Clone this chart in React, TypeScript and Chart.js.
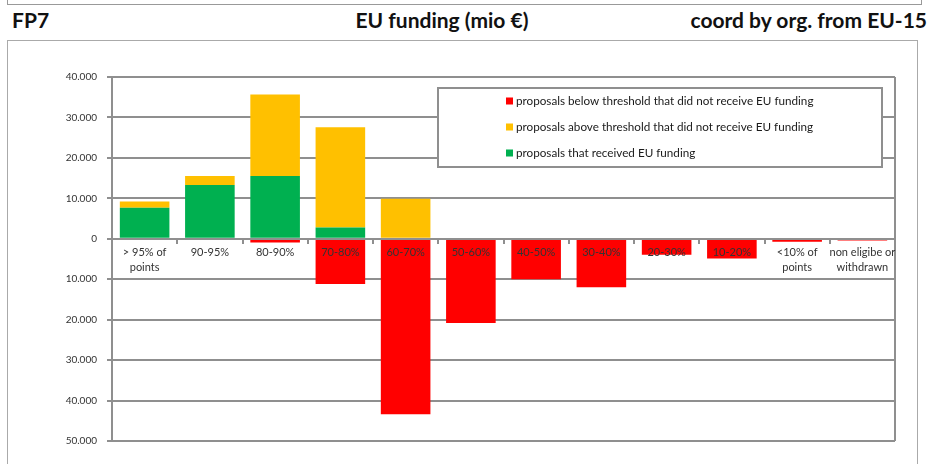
import React, { useEffect, useRef } from "react";
import { Chart, registerables } from "chart.js";

Chart.register(...registerables);

const categories: (string | string[])[] = [
  ["> 95% of", "points"],
  "90-95%",
  "80-90%",
  "70-80%",
  "60-70%",
  "50-60%",
  "40-50%",
  "30-40%",
  "20-30%",
  "10-20%",
  ["<10% of", "points"],
  ["non eligibe or", "withdrawn"],
];

const receivedFunding = [7700, 13300, 15550, 2800, 0, 0, 0, 0, 0, 0, 0, 0];
const aboveThresholdNotFunded = [1500, 2250, 20150, 24800, 9900, 0, 0, 0, 0, 0, 0, 0];
const belowThresholdNotFunded = [0, -300, -900, -11200, -43400, -20800, -10000, -12000, -3950, -4850, -750, -400];

const seriesLabels = [
  "proposals that received EU funding",
  "proposals above threshold that did not receive EU funding",
  "proposals below threshold that did not receive EU funding",
];

const yMin = -50000;
const yMax = 40000;
const yStep = 10000;

const FONT = "Lato, 'Open Sans', sans-serif";
const GRID = "#8f8f8f";

function fmt(v: number): string {
  return String(Math.abs(v)).replace(/\B(?=(\d{3})+(?!\d))/g, ".");
}

const frameAndLegend = {
  id: "frameAndLegend",
  beforeDatasetsDraw(chart: any) {
    const { ctx, chartArea } = chart;
    ctx.save();
    ctx.strokeStyle = GRID;
    ctx.lineWidth = 2;
    ctx.beginPath();
    ctx.moveTo(chartArea.right, chartArea.top);
    ctx.lineTo(chartArea.right, chartArea.bottom);
    ctx.stroke();
    ctx.restore();
  },
  afterDraw(chart: any) {
    const { ctx, chartArea } = chart;
    const x = chartArea.left + 326;
    const y = chartArea.top + 11;
    const w = 444;
    const h = 79;
    ctx.save();
    ctx.fillStyle = "#ffffff";
    ctx.fillRect(x, y, w, h);
    ctx.strokeStyle = GRID;
    ctx.lineWidth = 2;
    ctx.strokeRect(x, y, w, h);
    const items = chart.data.datasets.slice().reverse();
    ctx.font = `11.7px ${FONT}`;
    ctx.textBaseline = "middle";
    ctx.textAlign = "left";
    items.forEach((ds: any, i: number) => {
      const cy = y + 13 + i * 26;
      ctx.fillStyle = ds.backgroundColor;
      ctx.fillRect(x + 68, cy - 3.5, 7, 7);
      ctx.fillStyle = "#1a1a1a";
      ctx.fillText(ds.label, x + 78, cy + 0.5);
    });
    ctx.restore();
  },
};

function ChartView() {
  const ref = useRef<HTMLCanvasElement | null>(null);
  useEffect(() => {
    if (!ref.current) return;
    Chart.defaults.font.family = FONT;
    const chart = new Chart(ref.current, {
      type: "bar",
      data: {
        labels: categories,
        datasets: [
          { label: seriesLabels[0], data: receivedFunding, backgroundColor: "#00B050" },
          { label: seriesLabels[1], data: aboveThresholdNotFunded, backgroundColor: "#FFC000" },
          { label: seriesLabels[2], data: belowThresholdNotFunded, backgroundColor: "#FF0000" },
        ],
      },
      options: {
        responsive: false,
        animation: false,
        maintainAspectRatio: false,
        layout: { padding: { left: 0, top: 77, right: 38, bottom: 23 } },
        datasets: { bar: { categoryPercentage: 1, barPercentage: 0.76, borderWidth: 0 } },
        plugins: { legend: { display: false }, tooltip: { enabled: false }, title: { display: false } },
        scales: {
          x: {
            stacked: true,
            position: { y: 0 } as any,
            offset: true,
            grid: { display: true, drawOnChartArea: false, drawTicks: true, tickLength: 4, color: GRID, lineWidth: 2, offset: true },
            border: { display: true, color: GRID, width: 2, z: 1 } as any,
            ticks: {
              z: 2,
              autoSkip: false,
              maxRotation: 0,
              minRotation: 0,
              padding: 3,
              color: "#333333",
              font: { size: 11, family: FONT, lineHeight: 1.3 },
            } as any,
          },
          y: {
            stacked: true,
            min: yMin,
            max: yMax,
            afterFit: (scale: any) => {
              scale.width = 112;
            },
            grid: { color: GRID, lineWidth: 2, drawTicks: true, tickLength: 5 },
            border: { display: true, color: GRID, width: 2 },
            ticks: {
              stepSize: yStep,
              padding: 10,
              color: "#333333",
              font: { size: 10, family: FONT },
              callback: (v: any) => fmt(Number(v)),
            },
          },
        },
      },
      plugins: [frameAndLegend],
    });
    return () => chart.destroy();
  }, []);
  return (
    <canvas
      ref={ref}
      width={933}
      height={464}
      style={{ position: "absolute", left: 0, top: 0, width: 933, height: 464 }}
    />
  );
}

export default function App() {
  const head: React.CSSProperties = {
    position: "absolute",
    top: 7,
    fontFamily: FONT,
    fontWeight: 700,
    fontSize: 21,
    lineHeight: "26px",
    color: "#111",
    whiteSpace: "nowrap",
  };
  return (
    <div style={{ position: "fixed", left: 0, top: 0, width: 933, height: 464, background: "#fff", overflow: "hidden" }}>
      <div style={{ position: "absolute", left: 7, top: -2, width: 913, height: 6, borderLeft: "1px solid #999", borderRight: "1px solid #999", borderBottom: "1px solid #999" }} />
      <div style={{ ...head, left: 12 }}>FP7</div>
      <div style={{ ...head, left: 442, transform: "translateX(-50%)" }}>EU funding (mio €)</div>
      <div style={{ ...head, right: 6 }}>coord by org. from EU-15</div>
      <div style={{ position: "absolute", left: 7, top: 40, width: 909, height: 440, border: "1px solid #aaa" }} />
      <ChartView />
    </div>
  );
}
